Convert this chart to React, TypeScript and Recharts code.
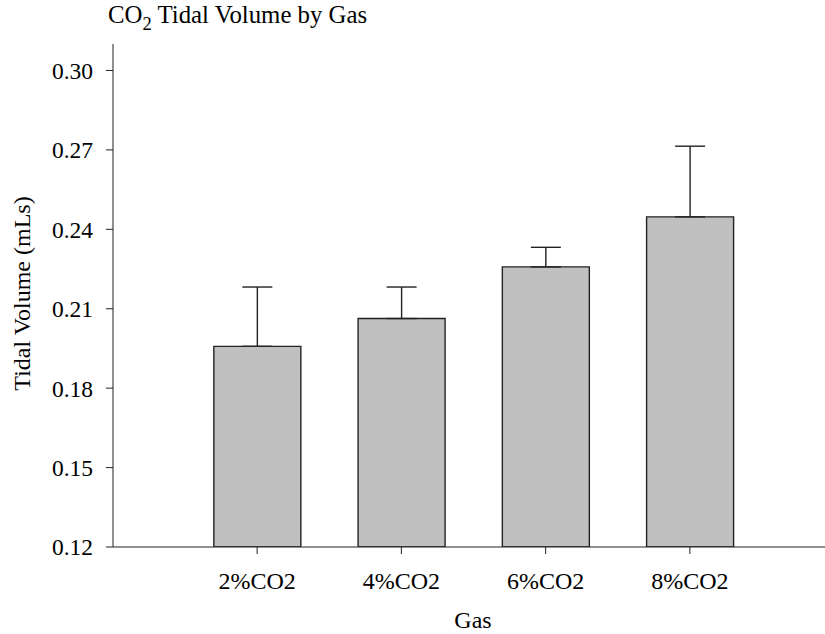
import { BarChart, Bar, XAxis, YAxis, ErrorBar } from 'recharts'

const gases = ['2%CO2', '4%CO2', '6%CO2', '8%CO2']
const tidalVolume = [0.1958, 0.2063, 0.2258, 0.2447]
const stdError = [0.0224, 0.0119, 0.0074, 0.0267]
const yTicks = [0.12, 0.15, 0.18, 0.21, 0.24, 0.27, 0.3]

const FONT = '"Liberation Serif", "Times New Roman", serif'

// only the upper whisker is drawn, like the original
const data = gases.map((gas, i) => ({
  gas,
  volume: tidalVolume[i],
  err: [0, stdError[i]],
}))

function YLabel(props: any) {
  const { viewBox } = props
  const cx = viewBox.x + 22
  const cy = viewBox.y + viewBox.height / 2 - 2
  return (
    <text
      x={cx}
      y={cy}
      transform={`rotate(-90, ${cx}, ${cy})`}
      textAnchor="middle"
      dominantBaseline="central"
      fontFamily={FONT}
      fontSize={24}
      fill="#000"
    >
      Tidal Volume (mLs)
    </text>
  )
}

function XLabel(props: any) {
  const { viewBox } = props
  return (
    <text
      x={viewBox.x + viewBox.width / 2 + 4}
      y={viewBox.y + viewBox.height - 6}
      textAnchor="middle"
      fontFamily={FONT}
      fontSize={24}
      fill="#000"
    >
      Gas
    </text>
  )
}

export default function App() {
  return (
    <div style={{ position: 'absolute', left: 0, top: 0, width: 825, height: 634, background: '#fff' }}>
      <div
        style={{
          position: 'absolute',
          left: 108,
          top: 3,
          fontFamily: FONT,
          fontSize: 24.8,
          lineHeight: '24px',
          color: '#000',
          whiteSpace: 'nowrap',
        }}
      >
        CO<sub style={{ fontSize: '0.75em', verticalAlign: -7, lineHeight: 0 }}>2</sub> Tidal Volume by Gas
      </div>
      <BarChart
        width={825}
        height={634}
        data={data}
        margin={{ top: 44, right: 0, bottom: 0, left: 0 }}
        barCategoryGap="20%"
      >
        <XAxis
          dataKey="gas"
          height={87}
          padding={{ left: 72, right: 63 }}
          stroke="#222"
          tickSize={7}
          tickMargin={18}
          tick={{ fontFamily: FONT, fontSize: 24, fill: '#000' }}
          label={XLabel}
        />
        <YAxis
          width={113}
          domain={[0.12, 0.31]}
          ticks={yTicks}
          allowDataOverflow
          stroke="#222"
          tickSize={7}
          tickMargin={13}
          tickFormatter={(v: number) => v.toFixed(2)}
          tick={{ fontFamily: FONT, fontSize: 23.5, fill: '#000' }}
          label={YLabel}
        />
        <Bar dataKey="volume" fill="#c0c0c0" stroke="#222" strokeWidth={1.4} isAnimationActive={false}>
          <ErrorBar dataKey="err" direction="y" width={15} stroke="#222" strokeWidth={1.4} />
        </Bar>
      </BarChart>
    </div>
  )
}
